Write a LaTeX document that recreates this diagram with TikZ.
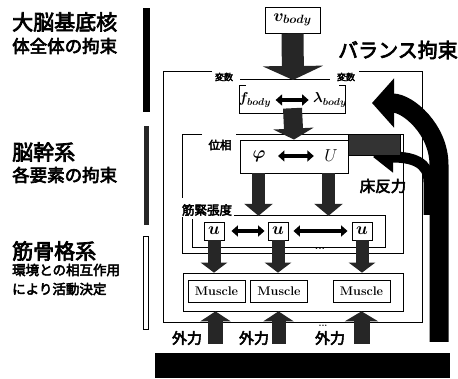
\documentclass[tikz,border=0pt]{standalone}
\usepackage{fontspec}
\newfontfamily\jp{Noto Sans CJK JP}[AutoFakeBold=3.5]
\usetikzlibrary{arrows.meta}
\newcommand{\jpf}[1]{\fontsize{#1}{#1}\selectfont\jp\bfseries}
\begin{document}
\begin{tikzpicture}[x=1pt,y=-1pt,
  frame/.style={draw, line width=0.7pt},
  box/.style={draw, line width=0.9pt, inner sep=0pt},
  txt/.style={inner sep=0pt},
  blockarr/.style n args={3}{draw=black!85, line width=#1, -{Triangle[length=#3, width=#2]}},
  dbl/.style={draw=black, line width=3.8pt, {Triangle[length=6.5pt,width=11pt]}-{Triangle[length=6.5pt,width=11pt]}},
  bigarr/.style n args={3}{draw=black, line width=#1, -{Triangle[length=#3, width=#2]}},
  musc/.style={box, minimum width=57pt, minimum height=22pt, font=\fontsize{12.5}{12.5}\selectfont\bfseries},
]
\useasboundingbox (0,0) rectangle (458,379);

% left labels
\node[txt, anchor=west, font=\jpf{21}] (t1) at (12,22) {大脳基底核};
\node[txt, anchor=west, font=\jpf{17.5}] (t2) at (12,46) {体全体の拘束};
\node[txt, anchor=west, font=\jpf{21}] (t3) at (12,152) {脳幹系};
\node[txt, anchor=west, font=\jpf{17.5}] (t4) at (12,175) {各要素の拘束};
\node[txt, anchor=west, font=\jpf{21}] (t5) at (12,251) {筋骨格系};
\node[txt, anchor=west, font=\jpf{13.5}] (t6) at (12,270) {環境との相互作用};
\node[txt, anchor=west, font=\jpf{13.5}] (t7) at (12,289) {により活動決定};

% left bars
\node[fill=black, minimum width=7pt, minimum height=104pt, inner sep=0pt] (bar1) at (146.5,60) {};
\node[fill=black!85, minimum width=4.5pt, minimum height=99pt, inner sep=0pt] (bar2) at (146.5,175.5) {};
\node[draw, line width=1pt, fill=white, minimum width=5pt, minimum height=93pt, inner sep=0pt] (bar3) at (146,283.5) {};

% top
\node[box, minimum width=55pt, minimum height=26pt, font=\fontsize{17}{17}\selectfont\boldmath] (vb) at (292.5,20) {$v_{body}$};
\node[txt, anchor=west, font=\jpf{20}] (bal) at (338,50) {バランス拘束};

% outer frame
\draw[frame] (212,71) -- (163,71) -- (163,322) -- (422,322) -- (422,71) -- (359,71);
\coordinate (refL) at (240,79);
\coordinate (refR) at (330,79);
\coordinate (ref) at (293,80);
\draw[frame] (refL) -- (refR);
\node[txt, font=\jpf{9}] (pl) at (224,77) {変数};
\node[txt, font=\jpf{9}] (pr) at (346,77) {変数};
\draw[blockarr={22pt}{60pt}{14pt}] (vb.south) -- (ref);

% f - lambda box
\node[minimum width=105pt, minimum height=27pt, inner sep=0pt] (fl) at (292.5,99.5) {};
\draw[frame] ([xshift=6pt]fl.north west) -- (fl.north west) -- (fl.south west) -- (fl.south east) -- (fl.north east) -- ([xshift=-6pt]fl.north east);
\node[font=\fontsize{14}{14}\selectfont\boldmath] (fb) at (255,100) {$f_{body}$};
\node[font=\fontsize{14}{14}\selectfont\boldmath] (lb) at (330,100) {$\lambda_{body}$};
\draw[dbl, shorten <=1pt, shorten >=1pt] (fb) -- (lb);

% brainstem frame
\draw[frame] (202,134) -- (182,134) -- (182,198);
\draw[frame] (182,217) -- (182,253) -- (403,253) -- (403,134) -- (236,134);
\node[txt, font=\jpf{11.5}] (ph) at (220,145) {位相};

% phi - U box
\node[box, minimum width=108pt, minimum height=33pt] (pu) at (294,156.5) {};
\draw[blockarr={19pt}{40pt}{11pt}] ([yshift=5pt]fl.south) -- (pu.north);
\node[font=\fontsize{18}{18}\selectfont\boldmath] (phi) at (259,156) {$\varphi$};
\node[font=\fontsize{18}{18}\selectfont] (U) at (331,156) {$U$};
\draw[dbl, shorten <=9pt, shorten >=7pt] (phi) -- (U);

% floor reaction arrow
\draw[bigarr={11pt}{30pt}{20pt}] (429,215) -- (429,182) .. controls (429,162) and (412,157) .. (373,157);
\node[fill=black!80, draw=black, minimum width=52pt, minimum height=21pt, inner sep=0pt] (flr) at (374,144.5) {};
\node[txt, font=\jpf{15.5}] (yuka) at (383,186) {床反力};

% muscle tone frame
\node[minimum width=192pt, minimum height=31pt, inner sep=0pt] (uf) at (289,231.5) {};
\draw[frame] ([xshift=41pt]uf.north west) -- (uf.north east) -- (uf.south east) -- (uf.south west) -- ([yshift=-3pt]uf.north west);
\node[txt, font=\jpf{12.5}] (mt) at (207,210) {筋緊張度};
\draw[blockarr={13pt}{28pt}{12pt}] ([xshift=-35.5pt]pu.south) -- ([xshift=-35.5pt]pu.south |- uf.north);
\draw[blockarr={13pt}{28pt}{12pt}] ([xshift=34.5pt]pu.south) -- ([xshift=34.5pt]pu.south |- uf.north);

\node[box, minimum width=20pt, minimum height=18pt, font=\fontsize{17}{17}\selectfont\boldmath] (u1) at (214,231) {$u$};
\node[box, minimum width=20pt, minimum height=18pt, font=\fontsize{17}{17}\selectfont\boldmath] (u2) at (278,231) {$u$};
\node[box, minimum width=20pt, minimum height=18pt, font=\fontsize{17}{17}\selectfont\boldmath] (u3) at (362,231) {$u$};
\draw[dbl, shorten <=7pt, shorten >=3pt] (u1.east) -- (u2.west);
\draw[dbl, shorten <=5pt, shorten >=4pt] (u2.east) -- (u3.west);
\node[txt, font=\bfseries\fontsize{11}{11}\selectfont] (dd) at (320,249) {...};

% muscles
\node[box, line width=0.7pt, minimum width=220pt, minimum height=38pt] (mf) at (293,292) {};
\node[musc] (m1) at (216.5,291) {Muscle};
\node[musc] (m2) at (279,291) {Muscle};
\node[musc] (m3) at (361.5,291) {Muscle};
\draw[blockarr={13pt}{26pt}{10pt}] (u1.south) -- (u1.south |- mf.north);
\draw[blockarr={13pt}{26pt}{10pt}] (u2.south) -- (u2.south |- mf.north);
\draw[blockarr={13pt}{26pt}{10pt}] (u3.south) -- (u3.south |- mf.north);

% external forces
\coordinate (e1) at (215.5,344);
\coordinate (e2) at (278.5,344);
\coordinate (e3) at (361.5,344);
\draw[blockarr={15pt}{30pt}{10pt}] (e1) -- (e1 |- mf.south);
\draw[blockarr={14pt}{30pt}{10pt}] (e2) -- (e2 |- mf.south);
\draw[blockarr={16pt}{33pt}{10pt}] (e3) -- (e3 |- mf.south);
\node[txt, font=\jpf{15}] (g1) at (187,338) {外力};
\node[txt, font=\jpf{15}] (g2) at (254,338) {外力};
\node[txt, font=\jpf{15}] (g3) at (330,338) {外力};
\node[txt, font=\bfseries\fontsize{9}{9}\selectfont] (gd) at (323,326) {...};

% ground
\node[fill=black, minimum width=295pt, minimum height=25pt, inner sep=0pt] (gr) at (302.5,365.5) {};

% balance arrow
\coordinate (bb) at (439,342);
\coordinate (bt) at (439,165);
\coordinate (btip) at (372,103);
\draw[bigarr={19pt}{48pt}{22pt}] (bb) -- (bt) to[out=90,in=0] (btip);
\end{tikzpicture}
\end{document}
